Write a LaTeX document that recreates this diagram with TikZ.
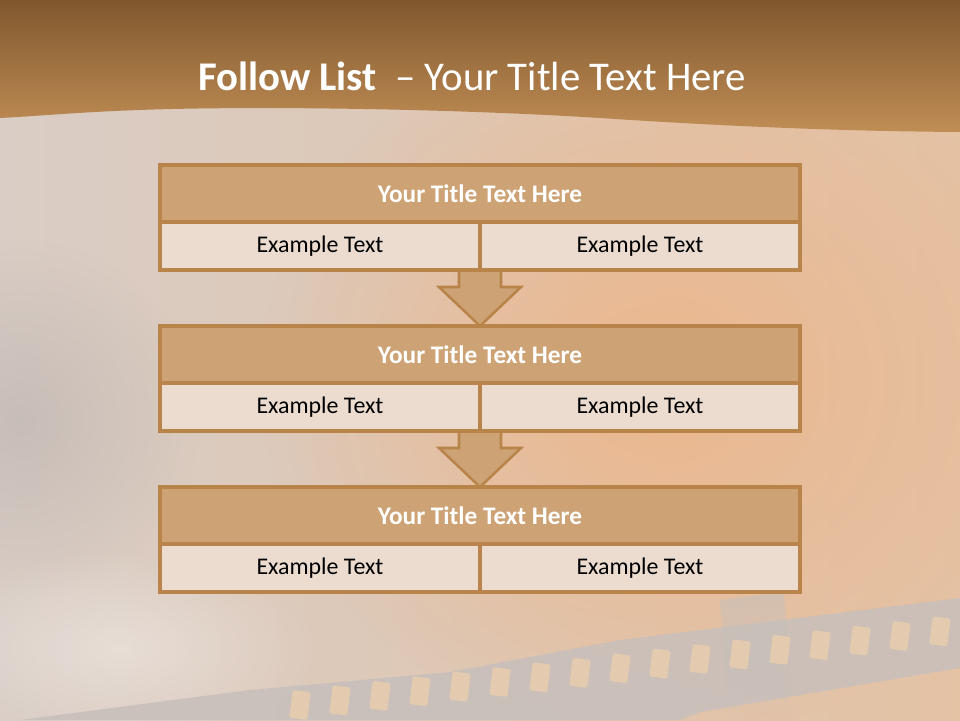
\documentclass[tikz,border=0pt]{standalone}
\usepackage{fontspec}
\setmainfont{Carlito}
\usetikzlibrary{positioning,calc,fadings}
\tikzfading[name=soft blob, inner color=transparent!0, outer color=transparent!100]
\definecolor{hdtop}{HTML}{80582E}
\definecolor{hdbot}{HTML}{C08D55}
\definecolor{bgleft}{HTML}{D9CDC5}
\definecolor{bgright}{HTML}{E4C2A4}
\definecolor{warm}{HTML}{EDB589}
\definecolor{greypatch}{HTML}{C3B9B4}
\definecolor{film}{HTML}{C7BFBC}
\definecolor{hole}{HTML}{E4CBB0}
\definecolor{edge}{HTML}{B8844A}
\definecolor{tan}{HTML}{CDA274}
\definecolor{cream}{HTML}{EBDCCF}
\begin{document}
\begin{tikzpicture}[
    titlebox/.style={draw=edge, fill=tan, line width=2.4pt, minimum width=16cm,
        minimum height=1.425cm, outer sep=0pt, text=white,
        font=\bfseries\fontsize{18}{21}\selectfont},
    cellbox/.style={draw=edge, fill=cream, line width=2.4pt, minimum width=8cm,
        minimum height=1.2cm, outer sep=0pt, text=black,
        font=\fontsize{17}{20}\selectfont},
    flowarrow/.style={draw=edge, fill=tan, line width=1.8pt, line join=miter}]
    \useasboundingbox (0,0) rectangle (24,18);
    \clip (0,0) rectangle (24,18);
    \shade[left color=bgleft, right color=bgright] (0,0) rectangle (24,18);
    \fill[warm, path fading=soft blob, opacity=0.9] (16.5,8.5) ellipse (10 and 9);
    \fill[greypatch, path fading=soft blob, opacity=0.8] (0.5,7.5) ellipse (4.5 and 4.5);
    \fill[white, path fading=soft blob, opacity=0.35] (3,1.8) ellipse (5 and 2.5);
    \fill[film, opacity=0.85] (0.5,0) -- (6.25,0.75) -- (11.25,1.2) -- (15.5,2)
        -- (24,3.05) -- (24,1.3) -- (17.5,0.2) -- (17,0) -- cycle;
    \fill[film, path fading=south, opacity=0.6] (18,3) -- (19.6,3.2) -- (19.8,0) -- (18.2,0) -- cycle;
    \foreach \k in {0,...,16}
        \fill[hole, rotate around={-7:({7.5+\k},{0.375+\k*0.115})}, rounded corners=1.5pt]
            ({7.5+\k-0.225},{0.375+\k*0.115-0.35}) rectangle ++(0.45,0.7);
    \shade[top color=hdtop, bottom color=hdbot] (0,18) -- (24,18) -- (24,14.7)
        .. controls (21,14.72) and (18,14.85) .. (15,15.05)
        .. controls (11,15.3) and (6,15.35) .. (3.5,15.25)
        .. controls (2,15.2) and (1,15.1) .. (0,15.05) -- cycle;
    \node[text=white, font=\fontsize{29}{33}\selectfont] (head) at (11.8,16.1)
        {\textbf{Follow List}\ \ – Your Title Text Here};
    \foreach \i/\y in {1/13.1625,2/9.1375,3/5.1125} {
        \node[titlebox] (t\i) at (12,\y) {Your Title Text Here};
        \node[cellbox, below right=0pt and 0pt of t\i.south west] (l\i) {Example Text};
        \node[cellbox, below left=0pt and 0pt of t\i.south east] (r\i) {Example Text};
    }
    \foreach \i/\j in {1/2,2/3}
        \draw[flowarrow] ($(l\i.south east)+(-0.525,0.1)$) -- ++(0,-0.525) -- ++(-0.5,0)
            -- (t\j.north) -- ($(l\i.south east)+(1.025,-0.425)$) -- ++(-0.5,0) -- ++(0,0.525);
    \foreach \i in {1,2,3} {
        \node[titlebox] at (t\i) {Your Title Text Here};
        \node[cellbox] at (l\i) {Example Text};
        \node[cellbox] at (r\i) {Example Text};
    }
\end{tikzpicture}
\end{document}
